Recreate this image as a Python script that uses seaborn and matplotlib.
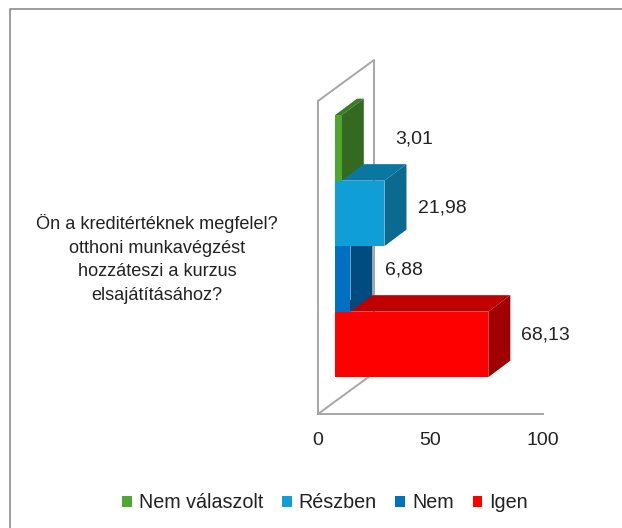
import pandas as pd
import seaborn as sns
import matplotlib.pyplot as plt
from matplotlib.lines import Line2D
from matplotlib.patches import Patch, Polygon

categories = ['Nem válaszolt', 'Részben', 'Nem', 'Igen']
values = [3.01, 21.98, 6.88, 68.13]
front_colors = ['#4EA72E', '#0F9ED5', '#0070C0', '#FF0000']
top_colors = ['#3B7D23', '#0B76A0', '#005490', '#BF0000']
side_colors = ['#346A1F', '#0A6A8F', '#004B80', '#A00000']
question = 'Ön a kreditértéknek megfelel?\notthoni munkavégzést\nhozzáteszi a kurzus\nelsajátításához?'
x_ticks = [0, 50, 100]

sns.set_style('white')
plt.rcParams['font.family'] = ['Liberation Sans', 'DejaVu Sans']

W, H = 622, 528
fig = plt.figure(figsize=(W / 100, H / 100), dpi=100)
ax = fig.add_axes([318 / W, (H - 414) / H, 225 / W, 313 / H])

df = pd.DataFrame({'valasz': categories, 'ertek': values})
sns.barplot(data=df, y='valasz', x='ertek', hue='valasz', hue_order=categories,
            palette=front_colors, width=1, legend=False, saturation=1, ax=ax)
ax.set_xlim(0, 100)
ax.set_ylim(3.87, -0.908)

# fake 3d: bars sit inside the box, depth in data units
start_x, start_y = 7.56, 0.192
depth_x, depth_y = 9.78, 0.252
wall_x, wall_y = 24.9, 0.626
wall_color = '#A6A6A6'
y0, y1 = ax.get_ylim()
ax.plot([0, wall_x, wall_x, 0], [y0, y0 - wall_y, y1 - wall_y, y1], color=wall_color,
        lw=1.4, clip_on=False, zorder=1)

# pixel nudges for the value labels
label_dx = [31, 12, 13, 11]
label_dy = [9, 5, 9, 9]
for i, (bar, v) in enumerate(zip(ax.patches, values)):
    # upper bars go on top, they hide the top face of the bar below
    z = 10 + (3 - i)
    bar.set_x(start_x)
    bar.set_y(bar.get_y() - start_y)
    bar.set_zorder(z + 0.2)
    bar.set_clip_on(False)
    bar.set_linewidth(0)
    xr = start_x + bar.get_width()
    yt = bar.get_y()
    yb = yt + bar.get_height()
    top = [(start_x, yt), (xr, yt), (xr + depth_x, yt - depth_y), (start_x + depth_x, yt - depth_y)]
    side = [(xr, yt), (xr, yb), (xr + depth_x, yb - depth_y), (xr + depth_x, yt - depth_y)]
    ax.add_patch(Polygon(top, closed=True, fc=top_colors[i], lw=0, zorder=z, clip_on=False))
    ax.add_patch(Polygon(side, closed=True, fc=side_colors[i], lw=0, zorder=z + 0.1, clip_on=False))
    ax.annotate(f'{v:.2f}'.replace('.', ','), xy=(xr + depth_x, (yt + yb) / 2),
                xytext=(label_dx[i], label_dy[i]), textcoords='offset pixels',
                ha='left', va='center', fontsize=14, color='#222222', zorder=20,
                annotation_clip=False)

sns.despine(ax=ax, top=True, right=True)
for s in ['left', 'bottom']:
    ax.spines[s].set_color(wall_color)
    ax.spines[s].set_linewidth(1.4)
ax.set_xticks(x_ticks)
ax.set_yticks([])
ax.set_xlabel('')
ax.set_ylabel('')
ax.tick_params(axis='x', length=0, pad=13, labelsize=14, labelcolor='#222222')

fig.text(157 / W, 1 - 259 / H, question, ha='center', va='center', fontsize=13.1,
         color='#222222', linespacing=1.51)

# chart area border, only top and left show
fig.add_artist(Line2D([10 / W, 10 / W, 1], [0, 1 - 8.5 / H, 1 - 8.5 / H], color='#8C8C8C', lw=1.2))

handles = [Patch(fc=c, lw=0, label=n) for n, c in zip(categories, front_colors)]
fig.legend(handles=handles, ncol=4, loc='center', bbox_to_anchor=(325 / W, 1 - 503 / H),
           frameon=False, fontsize=14.2, handlelength=0.5, handleheight=0.5,
           handletextpad=0.35, columnspacing=0.95, labelcolor='#222222')

plt.savefig('out.png', dpi=100)
